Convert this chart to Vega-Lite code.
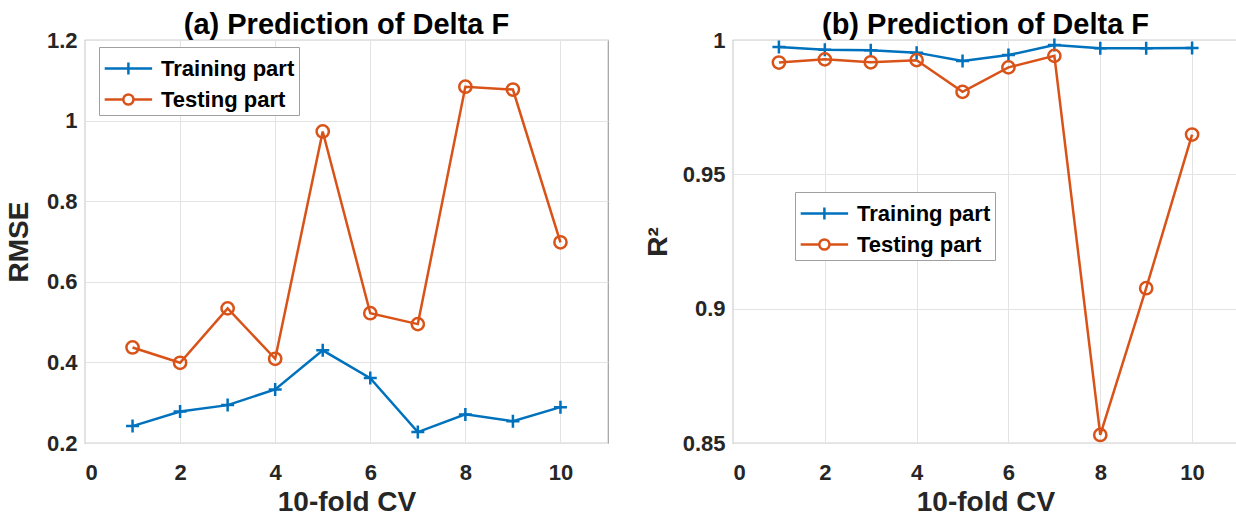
{
  "$schema": "https://vega.github.io/schema/vega-lite/v6.json",
  "background": "white",
  "padding": {"left": 4, "top": 10, "right": 0, "bottom": 0},
  "datasets": {
    "rmse": [
      {"cv": 1, "series": "Training part", "value": 0.242},
      {"cv": 2, "series": "Training part", "value": 0.278},
      {"cv": 3, "series": "Training part", "value": 0.294},
      {"cv": 4, "series": "Training part", "value": 0.333},
      {"cv": 5, "series": "Training part", "value": 0.430},
      {"cv": 6, "series": "Training part", "value": 0.361},
      {"cv": 7, "series": "Training part", "value": 0.227},
      {"cv": 8, "series": "Training part", "value": 0.271},
      {"cv": 9, "series": "Training part", "value": 0.254},
      {"cv": 10, "series": "Training part", "value": 0.289},
      {"cv": 1, "series": "Testing part", "value": 0.437},
      {"cv": 2, "series": "Testing part", "value": 0.399},
      {"cv": 3, "series": "Testing part", "value": 0.534},
      {"cv": 4, "series": "Testing part", "value": 0.409},
      {"cv": 5, "series": "Testing part", "value": 0.973},
      {"cv": 6, "series": "Testing part", "value": 0.522},
      {"cv": 7, "series": "Testing part", "value": 0.495},
      {"cv": 8, "series": "Testing part", "value": 1.084},
      {"cv": 9, "series": "Testing part", "value": 1.077},
      {"cv": 10, "series": "Testing part", "value": 0.698}
    ],
    "r2": [
      {"cv": 1, "series": "Training part", "value": 0.9974},
      {"cv": 2, "series": "Training part", "value": 0.9964},
      {"cv": 3, "series": "Training part", "value": 0.9962},
      {"cv": 4, "series": "Training part", "value": 0.9953},
      {"cv": 5, "series": "Training part", "value": 0.9922},
      {"cv": 6, "series": "Training part", "value": 0.9944},
      {"cv": 7, "series": "Training part", "value": 0.9981},
      {"cv": 8, "series": "Training part", "value": 0.9969},
      {"cv": 9, "series": "Training part", "value": 0.9969},
      {"cv": 10, "series": "Training part", "value": 0.9970},
      {"cv": 1, "series": "Testing part", "value": 0.9916},
      {"cv": 2, "series": "Testing part", "value": 0.9928},
      {"cv": 3, "series": "Testing part", "value": 0.9917},
      {"cv": 4, "series": "Testing part", "value": 0.9925},
      {"cv": 5, "series": "Testing part", "value": 0.9807},
      {"cv": 6, "series": "Testing part", "value": 0.9898},
      {"cv": 7, "series": "Testing part", "value": 0.9941},
      {"cv": 8, "series": "Testing part", "value": 0.853},
      {"cv": 9, "series": "Testing part", "value": 0.9076},
      {"cv": 10, "series": "Testing part", "value": 0.9648}
    ]
  },
  "config": {
    "font": "Liberation Sans",
    "view": {"stroke": "#a0a0a0", "strokeWidth": 1.2},
    "axis": {
      "labelFont": "Liberation Sans", "labelFontWeight": "bold", "labelFontSize": 22, "labelColor": "#262626",
      "titleFont": "Liberation Sans", "titleFontWeight": "bold", "titleFontSize": 28, "titleColor": "#262626",
      "gridColor": "#e3e3e3", "gridWidth": 1, "ticks": false, "domain": false, "labelPadding": 8
    },
    "title": {"font": "Liberation Sans", "fontSize": 29, "fontWeight": "bold", "color": "#000000", "anchor": "middle", "offset": -11},
    "legend": {
      "orient": "none", "title": null,
      "labelFont": "Liberation Sans", "labelFontWeight": "bold", "labelFontSize": 22, "labelColor": "#000000",
      "symbolSize": 1000, "symbolStrokeWidth": 2.5, "strokeColor": "#a0a0a0", "fillColor": "white",
      "padding": 4, "rowPadding": 2, "labelOffset": 23
    },
    "concat": {"spacing": 34}
  },
  "resolve": {"scale": {"color": "independent", "shape": "independent"}, "legend": {"color": "independent", "shape": "independent"}},
  "hconcat": [
    {
      "width": 523, "height": 403,
      "title": "(a) Prediction of Delta F",
      "data": {"name": "rmse"},
      "encoding": {
        "x": {"field": "cv", "type": "quantitative", "scale": {"domain": [0, 11], "nice": false}, "axis": {"values": [0, 2, 4, 6, 8, 10], "title": "10-fold CV", "labelPadding": 19, "titlePadding": 5}},
        "y": {"field": "value", "type": "quantitative", "scale": {"domain": [0.2, 1.2], "nice": false, "zero": false}, "axis": {"values": [0.2, 0.4, 0.6, 0.8, 1, 1.2], "format": "~g", "title": "RMSE", "titlePadding": 13}}
      },
      "layer": [
        {"transform": [{"filter": "datum.series === 'Training part'"}], "mark": {"type": "line", "color": "#0072BD", "strokeWidth": 2.5}},
        {"transform": [{"filter": "datum.series === 'Testing part'"}], "mark": {"type": "line", "color": "#D95319", "strokeWidth": 2.5}},
        {"transform": [{"filter": "datum.series === 'Training part'"}], "mark": {"type": "point", "shape": "M-1,0H1M0,-1V1", "size": 169, "color": "#0072BD", "strokeWidth": 2.5, "filled": false, "opacity": 1}},
        {"transform": [{"filter": "datum.series === 'Testing part'"}], "mark": {"type": "point", "shape": "circle", "size": 150, "color": "#D95319", "strokeWidth": 2.5, "filled": false, "opacity": 1}},
        {
          "transform": [{"filter": "false"}],
          "mark": {"type": "point", "filled": false, "opacity": 1, "strokeWidth": 2.5},
          "encoding": {
            "color": {"field": "series", "type": "nominal", "scale": {"domain": ["Training part", "Testing part"], "range": ["#0072BD", "#D95319"]}, "legend": {"orient": "none", "legendX": 14, "legendY": 7}},
            "shape": {"field": "series", "type": "nominal", "scale": {"domain": ["Training part", "Testing part"], "range": ["M-1,0H2M0.5,-0.38V0.38", "M-1,0H0.18M0.82,0H2M0.82,0A0.32,0.32,0,1,1,0.18,0A0.32,0.32,0,1,1,0.82,0"]}, "legend": {"orient": "none", "legendX": 14, "legendY": 7}}
          }
        }
      ]
    },
    {
      "width": 505, "height": 403,
      "title": "(b) Prediction of Delta F",
      "data": {"name": "r2"},
      "encoding": {
        "x": {"field": "cv", "type": "quantitative", "scale": {"domain": [0, 11], "nice": false}, "axis": {"values": [0, 2, 4, 6, 8, 10], "title": "10-fold CV", "labelPadding": 19, "titlePadding": 5}},
        "y": {"field": "value", "type": "quantitative", "scale": {"domain": [0.85, 1], "nice": false, "zero": false}, "axis": {"values": [0.85, 0.9, 0.95, 1], "format": "~g", "title": "R²", "titlePadding": 10}}
      },
      "layer": [
        {"transform": [{"filter": "datum.series === 'Training part'"}], "mark": {"type": "line", "color": "#0072BD", "strokeWidth": 2.5, "clip": false}},
        {"transform": [{"filter": "datum.series === 'Testing part'"}], "mark": {"type": "line", "color": "#D95319", "strokeWidth": 2.5}},
        {"transform": [{"filter": "datum.series === 'Training part'"}], "mark": {"type": "point", "shape": "M-1,0H1M0,-1V1", "size": 169, "color": "#0072BD", "strokeWidth": 2.5, "filled": false, "opacity": 1}},
        {"transform": [{"filter": "datum.series === 'Testing part'"}], "mark": {"type": "point", "shape": "circle", "size": 150, "color": "#D95319", "strokeWidth": 2.5, "filled": false, "opacity": 1}},
        {
          "transform": [{"filter": "false"}],
          "mark": {"type": "point", "filled": false, "opacity": 1, "strokeWidth": 2.5},
          "encoding": {
            "color": {"field": "series", "type": "nominal", "scale": {"domain": ["Training part", "Testing part"], "range": ["#0072BD", "#D95319"]}, "legend": {"orient": "none", "legendX": 62, "legendY": 152}},
            "shape": {"field": "series", "type": "nominal", "scale": {"domain": ["Training part", "Testing part"], "range": ["M-1,0H2M0.5,-0.38V0.38", "M-1,0H0.18M0.82,0H2M0.82,0A0.32,0.32,0,1,1,0.18,0A0.32,0.32,0,1,1,0.82,0"]}, "legend": {"orient": "none", "legendX": 62, "legendY": 152}}
          }
        }
      ]
    }
  ]
}
